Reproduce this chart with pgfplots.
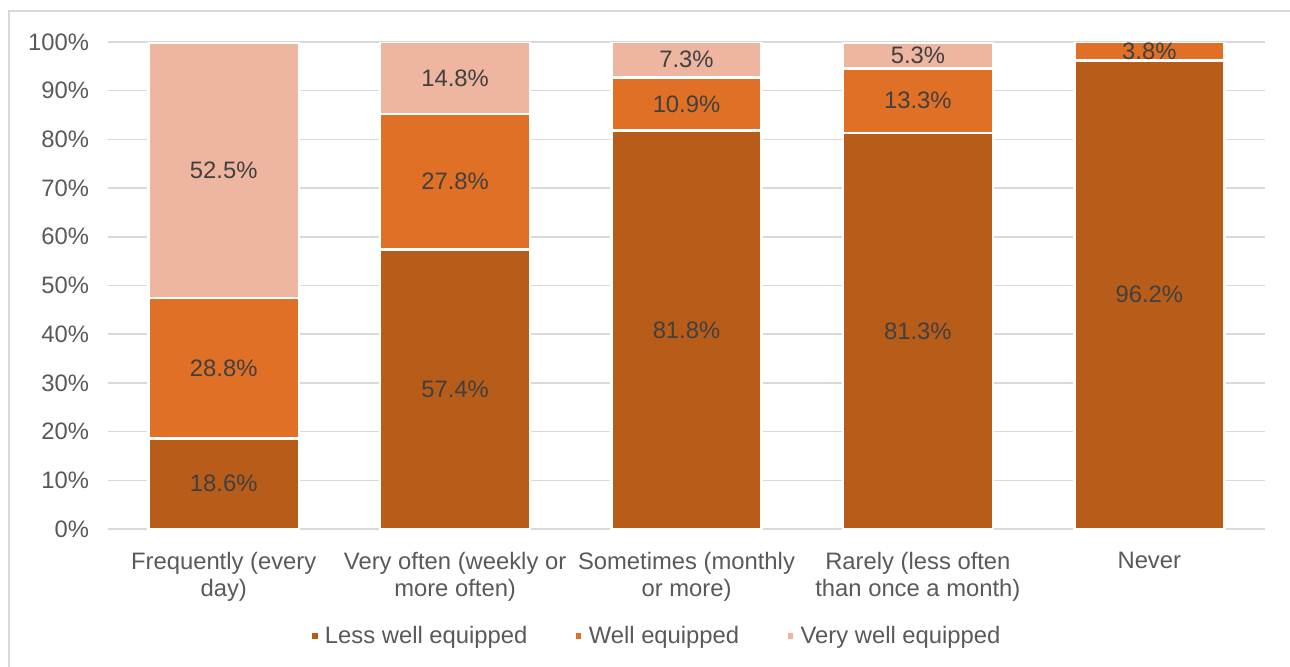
\documentclass[border=0pt]{standalone}
\usepackage{pgfplots}
\pgfplotsset{compat=1.18}
\usepackage{fontspec}
\setmainfont{Liberation Sans}

\definecolor{lessc}{HTML}{B85C1A}
\definecolor{wellc}{HTML}{E07025}
\definecolor{veryc}{HTML}{EEB5A0}
\definecolor{gridc}{HTML}{D9D9D9}
\definecolor{tickc}{HTML}{595959}
\definecolor{labc}{HTML}{404040}

\begin{document}
\begin{tikzpicture}
% page = 1290 x 666 px at 0.5pt per px
\path[use as bounding box] (-54pt,-68.5pt) rectangle (591pt,264.5pt);
\draw[gridc, line width=1pt] (-49.5pt,-80pt) -- (-49.5pt,259pt) -- (600pt,259pt);
\begin{axis}[
  name=ax, at={(0pt,0pt)}, anchor=south west,
  scale only axis, width=578.5pt, height=243.5pt,
  ybar stacked, bar width=75pt,
  xmin=-0.5, xmax=4.5, ymin=0, ymax=100,
  xtick={0,1,2,3,4},
  xticklabels={{Frequently (every\\day)},{Very often (weekly or\\more often)},{Sometimes (monthly\\or more)},{Rarely (less often\\than once a month)},{Never}},
  ytick={0,10,...,100},
  yticklabel={\pgfmathprintnumber{\tick}\%},
  /pgf/number format/assume math mode=true,
  ymajorgrids, grid style={gridc, line width=0.75pt},
  axis x line*=bottom, axis y line*=left,
  x axis line style={gridc, line width=0.75pt},
  y axis line style={draw=none},
  tick style={draw=none}, major tick length=0pt,
  tick label style={font=\fontsize{11.9}{13.7}\selectfont, text=tickc},
  xticklabel style={align=center, yshift=-8pt},
  yticklabel style={xshift=-6pt},
  nodes near coords={\pgfmathprintnumber[fixed,fixed zerofill,precision=1]{\pgfplotspointmeta}\%},
  every node near coord/.append style={anchor=center, text=labc,
    font=\fontsize{11.9}{13.7}\selectfont},
  legend columns=3,
  legend style={at={(0.4745,-0.2197)}, anchor=center, draw=none, fill=none,
    font=\fontsize{11.9}{13.7}\selectfont, text=tickc,
    /tikz/every even column/.append style={column sep=21pt}},
  legend image code/.code={\fill[#1] (0pt,-2pt) rectangle (4pt,2pt); \path (4.5pt,0pt);},
]
\addplot[fill=lessc, draw=white, line width=1.2pt] coordinates {(0,18.6) (1,57.4) (2,81.8) (3,81.3) (4,96.2)};
\addplot[fill=wellc, draw=white, line width=1.2pt] coordinates {(0,28.8) (1,27.8) (2,10.9) (3,13.3) (4,3.8)};
\addplot[fill=veryc, draw=white, line width=1.2pt] coordinates {(0,52.5) (1,14.8) (2,7.3) (3,5.3)};
\legend{Less well equipped, Well equipped, Very well equipped}
\end{axis}
\end{tikzpicture}
\end{document}
